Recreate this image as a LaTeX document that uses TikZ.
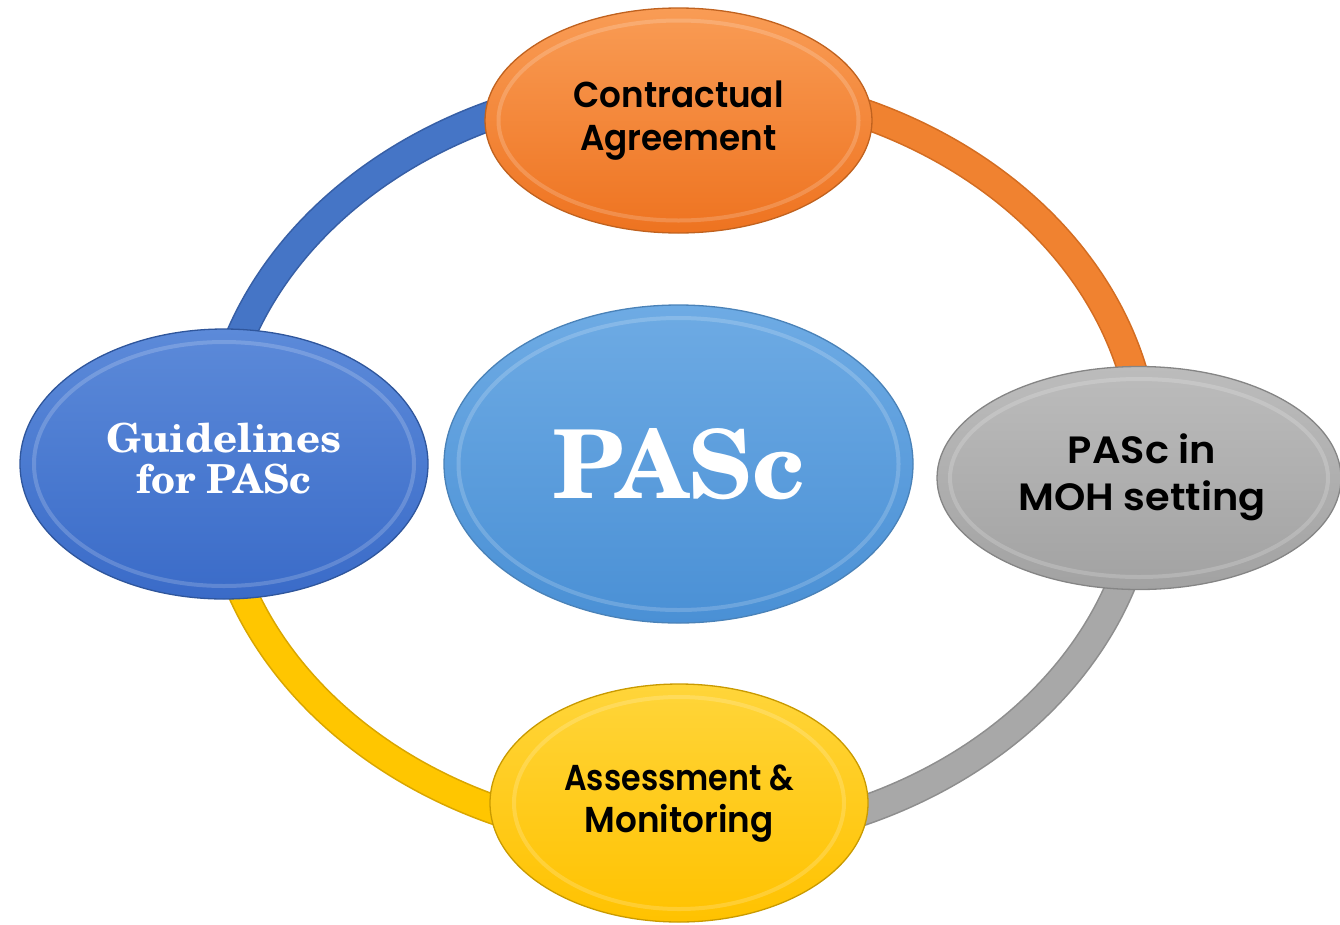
\documentclass[tikz,border=0pt]{standalone}
\usepackage{fontspec}
\usepackage{graphicx}
\usetikzlibrary{shapes.geometric}
\newfontfamily\twfont{Poppins SemiBold}
\newfontfamily\schfont{TeX Gyre Schola}
\definecolor{orT}{HTML}{F99C55}
\definecolor{orB}{HTML}{EE7320}
\definecolor{orE}{HTML}{C0621F}
\definecolor{orR}{HTML}{F08230}
\definecolor{orRE}{HTML}{D36D22}
\definecolor{blT}{HTML}{5C8AD9}
\definecolor{blB}{HTML}{3A6BC8}
\definecolor{blE}{HTML}{2F569C}
\definecolor{blR}{HTML}{4575C6}
\definecolor{blRE}{HTML}{375FA6}
\definecolor{lbT}{HTML}{6EABE4}
\definecolor{lbB}{HTML}{4A90D5}
\definecolor{lbE}{HTML}{4A82B8}
\definecolor{grT}{HTML}{BCBCBC}
\definecolor{grB}{HTML}{A2A2A2}
\definecolor{grE}{HTML}{858585}
\definecolor{grR}{HTML}{A8A8A8}
\definecolor{grRE}{HTML}{8E8E8E}
\definecolor{ylT}{HTML}{FFD53A}
\definecolor{ylB}{HTML}{FFC200}
\definecolor{ylE}{HTML}{C99A00}
\definecolor{ylR}{HTML}{FFC600}
\definecolor{ylRE}{HTML}{D9A600}
\tikzset{
  bub/.style n args={3}{ellipse, inner sep=0pt, top color=#1, bottom color=#2,
    draw=#3, line width=1.3pt},
  ringarc/.style 2 args={draw=#2, line width=1.6pt, double=#1, double distance=27pt},
  rim/.style={draw=white, opacity=.18, line width=4pt},
  twtext/.style={font=\twfont\fontsize{36}{43}\selectfont, text=black},
  sctext/.style={font=\schfont\bfseries\fontsize{40}{38}\selectfont, text=white},
}
\newcommand\twolines[4]{\begin{tabular}{@{}c@{}}\scalebox{#1}[1]{#2}\\\scalebox{#3}[1]{#4}\end{tabular}}
\begin{document}
\begin{tikzpicture}[x=1pt,y=1pt]
\useasboundingbox (0,0) rectangle (1340,-924);
\coordinate (rc) at (680,-462);
% ring segments
\draw[ringarc={orR}{orRE}] ([shift={(90:466pt and 379pt)}]rc) arc[start angle=90, end angle=0, x radius=466pt, y radius=379pt];
\draw[ringarc={grR}{grRE}] ([shift={(0:466pt and 379pt)}]rc) arc[start angle=0, end angle=-90, x radius=466pt, y radius=379pt];
\draw[ringarc={ylR}{ylRE}] ([shift={(270:466pt and 379pt)}]rc) arc[start angle=270, end angle=180, x radius=466pt, y radius=379pt];
\draw[ringarc={blR}{blRE}] ([shift={(180:466pt and 379pt)}]rc) arc[start angle=180, end angle=90, x radius=466pt, y radius=379pt];
% outer nodes
\node[bub={orT}{orB}{orE}, minimum width=387pt, minimum height=225pt, twtext] (contract) at (678.5,-120.5)
  {\raisebox{-8pt}{\twolines{0.95}{Contractual}{0.95}{Agreement}}};
\draw[rim] (contract.center) ellipse[x radius=180pt, y radius=100pt];
\node[bub={blT}{blB}{blE}, minimum width=408pt, minimum height=270pt, sctext] (guide) at (224,-464)
  {\raisebox{-8pt}{\twolines{1.05}{Guidelines}{0.98}{for PASc}}};
\draw[rim] (guide.center) ellipse[x radius=190pt, y radius=122pt];
\node[bub={grT}{grB}{grE}, minimum width=404pt, minimum height=223pt, twtext, font=\twfont\fontsize{38}{47}\selectfont] (moh) at (1139,-478)
  {\raisebox{-11pt}{\hspace*{6pt}\twolines{1.05}{PASc in}{1.05}{MOH setting}}};
\draw[rim] (moh.center) ellipse[x radius=189pt, y radius=99pt];
\node[bub={ylT}{ylB}{ylE}, minimum width=378pt, minimum height=238pt, twtext, font=\twfont\fontsize{36}{42}\selectfont] (assess) at (679,-803)
  {\raisebox{-9pt}{\twolines{0.88}{Assessment \&}{0.95}{Monitoring}}};
\draw[rim] (assess.center) ellipse[x radius=165pt, y radius=106pt];
% centre node
\node[bub={lbT}{lbB}{lbE}, minimum width=469pt, minimum height=318pt, text=white,
  font=\schfont\bfseries\fontsize{95}{95}\selectfont] (pasc) at (678.5,-464) {\raisebox{-1pt}{PASc}};
\draw[rim] (pasc.center) ellipse[x radius=220pt, y radius=146pt];
\end{tikzpicture}
\end{document}
